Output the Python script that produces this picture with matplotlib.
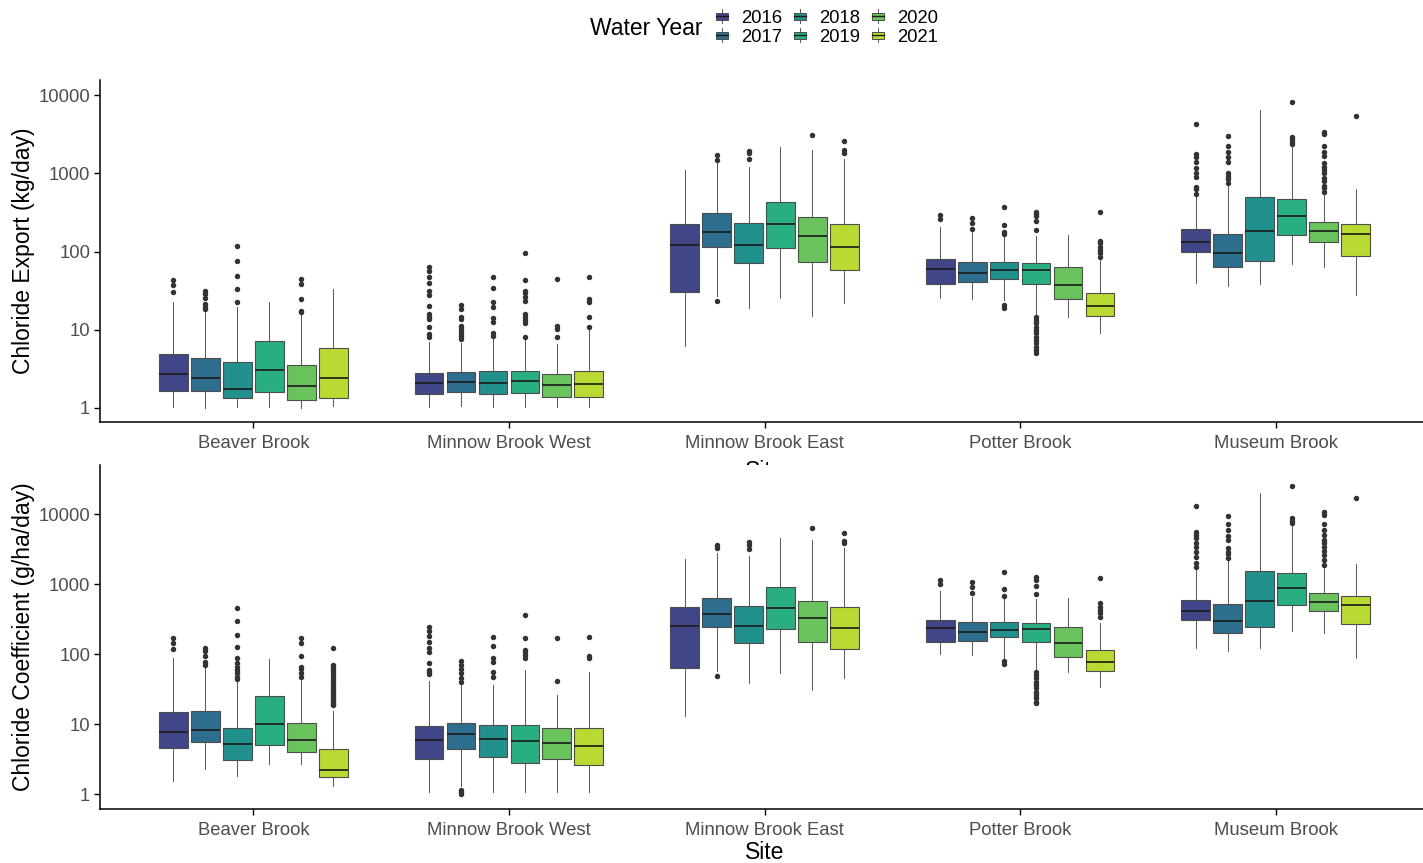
import numpy as np
import matplotlib
matplotlib.use("Agg")
import matplotlib.pyplot as plt
from matplotlib.patches import Rectangle
from matplotlib.lines import Line2D
from matplotlib.legend_handler import HandlerBase
from matplotlib.ticker import NullLocator

plt.rcParams['font.family'] = ['Liberation Sans', 'DejaVu Sans']

sites = ["Beaver Brook", "Minnow Brook West", "Minnow Brook East", "Potter Brook", "Museum Brook"]
years = ["2016", "2017", "2018", "2019", "2020", "2021"]

# Chloride export (kg/day): rows = sites, columns = water years
export_low = [[1.03, 1.0, 1.03, 1.03, 1.0, 1.06],
              [1.03, 1.05, 1.03, 1.03, 1.03, 1.03],
              [6.22, 26.9, 19.1, 25.6, 15.1, 21.7],
              [25.6, 24.6, 23.9, 15.4, 14.3, 8.95],
              [39.1, 36.1, 38.3, 69.1, 63.9, 27.7]]
export_q1 = [[1.65, 1.65, 1.32, 1.57, 1.25, 1.32],
             [1.50, 1.57, 1.48, 1.53, 1.38, 1.36],
             [30.6, 114, 70.5, 112, 74.0, 57.3],
             [38.3, 40.2, 44.4, 37.9, 24.4, 14.8],
             [97.5, 63.9, 75.5, 162, 133, 86.7]]
export_med = [[2.72, 2.37, 1.72, 3.07, 1.91, 2.37],
              [2.09, 2.11, 2.05, 2.22, 1.95, 2.01],
              [122, 179, 122, 223, 159, 113],
              [59.6, 53.5, 57.3, 57.9, 37.6, 20.2],
              [131, 95.6, 183, 282, 183, 166]]
export_q3 = [[4.82, 4.37, 3.88, 7.07, 3.48, 5.75],
             [2.75, 2.89, 2.95, 2.95, 2.70, 2.98],
             [225, 308, 234, 434, 279, 225],
             [80.9, 74.0, 74.0, 70.5, 62.6, 29.1],
             [194, 167, 493, 465, 236, 225]]
export_high = [[22.8, 17.8, 19.3, 22.3, 15.7, 32.7],
               [7.0, 6.67, 7.7, 7.35, 6.47, 10.1],
               [1104, 1344, 1195, 2197, 1991, 1513],
               [204, 179, 163, 158, 161, 77.8],
               [503, 731, 6474, 2197, 528, 625]]
export_out = [
    [[43.1, 37.2, 30.6], [31.5, 28.5, 25.1, 21.2, 19.7, 18.5], [118.7, 76.3, 49.0, 32.7, 22.3],
     [], [44.9, 37.9, 24.6, 17.3, 16.6], []],
    [[63.9, 56.2, 47.6, 39.4, 31.5, 27.7, 20.0, 15.7, 14.6, 13.8, 10.9, 8.8, 8.1],
     [20.4, 18.5, 14.6, 13.5, 11.1, 10.4, 9.7, 8.95, 8.3, 7.5],
     [46.6, 33.7, 22.3, 19.3, 13.9, 12.6, 9.1, 8.4],
     [94.7, 43.1, 31.2, 29.1, 26.4, 23.2, 15.7, 14.4, 13.3, 12.0, 8.1],
     [44.9, 11.1, 10.1, 7.95],
     [46.6, 24.6, 22.8, 14.4, 10.7]],
    [[], [1718, 1483, 23.2], [1953, 1841, 1528], [], [3069], [2596, 1991, 1841]],
    [[293, 258], [271, 229, 194], [375, 216, 179, 167, 20.6, 18.7],
     [323, 302, 285, 243, 187, 14.4, 13.3, 12.0, 10.9, 9.9, 8.95, 8.1, 7.35, 6.67, 6.04, 5.47, 5.06],
     [], [317, 137, 127, 115, 104, 94.7, 85.8]],
    [[4246, 1770, 1606, 1413, 1160, 1000, 889, 676, 624, 539],
     [3008, 2263, 1898, 1604, 1413, 1021, 925, 855, 745],
     [],
     [8122, 2950, 2728, 2546, 2354],
     [3420, 3162, 2263, 1898, 1667, 1371, 1195, 1104, 1021, 863, 798, 689, 643, 583],
     [5431]],
]

# Chloride coefficient (g/ha/day)
coef_low = [[1.55, 2.30, 1.85, 2.71, 2.71, 1.32],
            [1.07, 1.30, 1.07, 1.07, 1.07, 1.07],
            [13.2, 58.4, 39.4, 53.5, 30.9, 45.4],
            [100, 97.8, 87.7, 61.1, 56.5, 34.5],
            [122, 113, 122, 218, 200, 89.6]]
coef_q1 = [[4.54, 5.53, 3.06, 5.07, 3.98, 1.77],
           [3.20, 4.39, 3.45, 2.77, 3.16, 2.60],
           [63.8, 243, 147, 230, 152, 120],
           [150, 153, 179, 148, 92.6, 58.4],
           [309, 200, 243, 507, 416, 268]]
coef_med = [[7.86, 8.30, 5.24, 10.0, 6.04, 2.20],
            [5.91, 7.20, 6.17, 5.78, 5.35, 4.90],
            [257, 377, 257, 464, 334, 240],
            [235, 211, 225, 228, 147, 78.6],
            [416, 296, 578, 887, 565, 512]]
coef_q3 = [[15.2, 15.5, 8.96, 25.7, 10.3, 4.39],
           [9.47, 10.3, 9.68, 9.68, 8.77, 8.87],
           [469, 645, 496, 916, 584, 469],
           [313, 293, 293, 277, 248, 115],
           [597, 518, 1550, 1436, 743, 689]]
coef_high = [[89.6, 68.1, 43.0, 85.8, 44.4, 15.5],
             [41.6, 36.5, 36.5, 59.7, 26.2, 55.3],
             [2276, 2773, 2570, 4540, 4300, 3268],
             [803, 667, 631, 611, 631, 277],
             [1637, 2226, 20400, 7040, 1693, 1951]]
coef_out = [
    [[169, 144, 119], [124, 113, 94.7, 78.6, 70.4],
     [464, 296, 189, 126, 87.7, 74.4, 66.7, 59.7, 53.5, 48.0, 44.4],
     [], [173, 144, 94.7, 66.7, 61.7, 53.5, 48.0],
     [124, 70.4, 65.0, 61.7, 57.0, 53.5, 49.5, 45.4, 42.0, 39.8, 37.0, 34.5, 32.0, 29.9, 28.0,
      26.2, 24.8, 23.5, 22.0, 20.6, 19.6, 18.9]],
    [[248, 218, 183, 152, 122, 109, 76.0, 59.7, 56.5, 51.8],
     [80.3, 70.4, 61.7, 53.5, 45.4, 39.8, 1.15, 1.07, 1.0],
     [179, 132, 87.7, 76.9, 55.3, 48.0],
     [365, 169, 115, 107, 97.8, 89.6],
     [169, 42.1],
     [179, 95.7, 87.7]],
    [[], [3648, 3268, 49.0], [4070, 3648, 3162], [], [6450], [5470, 4203, 3853]],
    [[1153, 1011], [1068, 926, 760], [1484, 858, 681, 80.3, 72.8],
     [1259, 1153, 946, 728, 56.5, 50.7, 45.4, 40.7, 36.5, 32.7, 29.3, 26.2, 23.5, 21.1, 20.0],
     [], [1245, 535, 480, 430, 385, 345]],
    [[13150, 5654, 5070, 4540, 3853, 3378, 2929, 2486, 1995, 1787],
     [9462, 7197, 5975, 4900, 4300, 3268, 2929, 2683, 2352],
     [],
     [25700, 8960, 8128, 7436],
     [10690, 9780, 7197, 5975, 5070, 4300, 3853, 3378, 3027, 2625, 2226, 1890],
     [17300]],
]

year_colors = ['#404688', '#2D6E8E', '#22908C', '#29AE80', '#6BC35D', '#B9D933']

EDGE = '#4d4d4d'
WHISK = '#555555'


class BoxKey(HandlerBase):
    # small boxplot glyph for the legend
    def create_artists(self, legend, orig_handle, xdescent, ydescent,
                       width, height, fontsize, trans):
        x0, y0 = -xdescent, -ydescent
        cx = x0 + width / 2
        whisk = Line2D([cx, cx], [y0 + 0.02 * height, y0 + 0.98 * height],
                       color=WHISK, lw=0.7, transform=trans)
        box = Rectangle((x0, y0 + 0.25 * height), width, 0.5 * height,
                        facecolor=orig_handle.get_facecolor(), edgecolor=EDGE,
                        lw=0.7, transform=trans)
        med = Line2D([x0, x0 + width], [y0 + 0.5 * height] * 2,
                     color='#1a1a1a', lw=1.0, transform=trans)
        return [whisk, box, med]


def draw_panel(ax, low, q1, med, q3, high, out, ylabel, ylim):
    for j, year in enumerate(years):
        stats = []
        for i in range(len(sites)):
            stats.append(dict(whislo=low[i][j], q1=q1[i][j], med=med[i][j],
                              q3=q3[i][j], whishi=high[i][j], fliers=out[i][j]))
        pos = np.arange(1, len(sites) + 1) + (j - 2.5) * 0.125
        ax.bxp(stats, positions=pos, widths=0.1125, patch_artist=True,
               showcaps=False, manage_ticks=False,
               boxprops=dict(facecolor=year_colors[j], edgecolor=EDGE, linewidth=0.8),
               medianprops=dict(color='#1a1a1a', linewidth=1.2),
               whiskerprops=dict(color=WHISK, linewidth=0.7),
               flierprops=dict(marker='o', markersize=2.9, markerfacecolor='#333333',
                               markeredgecolor='#333333', linestyle='none'))
    ax.set_yscale('log')
    ax.set_ylim(ylim)
    ax.set_xlim(0.4, 5.6)
    ax.set_yticks([1, 10, 100, 1000, 10000])
    ax.set_yticklabels(['1', '10', '100', '1000', '10000'])
    ax.yaxis.set_minor_locator(NullLocator())
    ax.set_xticks(np.arange(1, len(sites) + 1))
    ax.set_xticklabels(sites)
    for s in ['top', 'right']:
        ax.spines[s].set_visible(False)
    for s in ['left', 'bottom']:
        ax.spines[s].set_linewidth(1.1)
        ax.spines[s].set_color('black')
    ax.tick_params(length=4, width=1.0, color='black', labelcolor='#4d4d4d',
                   labelsize=13.3, pad=3)
    ax.tick_params(axis='x', pad=5.5)
    ax.set_ylabel(ylabel, fontsize=16.5, color='black')
    ax.yaxis.set_label_coords(-0.049, 0.5)
    ax.set_xlabel('Site', fontsize=16.5, color='black')


W, H = 1423, 863
fig = plt.figure(figsize=(W / 100, H / 100), dpi=100)
ax_top = fig.add_axes([100 / W, 1 - 422 / H, 1329 / W, 342 / H])
ax_bot = fig.add_axes([100 / W, 1 - 809 / H, 1329 / W, 344 / H])

draw_panel(ax_top, export_low, export_q1, export_med, export_q3, export_high, export_out,
           'Chloride Export (kg/day)', (10 ** -0.183, 10 ** 4.196))
draw_panel(ax_bot, coef_low, coef_q1, coef_med, coef_q3, coef_high, coef_out,
           'Chloride Coefficient (g/ha/day)', (10 ** -0.21, 10 ** 4.704))
# the upper panel's axis title sits mostly behind the lower panel
ax_top.xaxis.set_label_coords(0.5, -0.112)
ax_bot.xaxis.set_label_coords(0.5, -0.092)

# legend across the top
handles = [Rectangle((0, 0), 1, 1, facecolor=c) for c in year_colors]
fig.text(703 / W, 1 - 28.5 / H, 'Water Year', ha='right', va='center', fontsize=16.5)
fig.legend(handles, years, handler_map={Rectangle: BoxKey()}, ncol=3,
           loc='upper left', bbox_to_anchor=(716 / W, 1 - 9 / H), frameon=False,
           fontsize=13.3, handlelength=0.65, handleheight=0.85, handletextpad=0.7,
           columnspacing=0.65, labelspacing=0.06, borderpad=0, borderaxespad=0)

fig.savefig('out.png', dpi=100, facecolor='white')
